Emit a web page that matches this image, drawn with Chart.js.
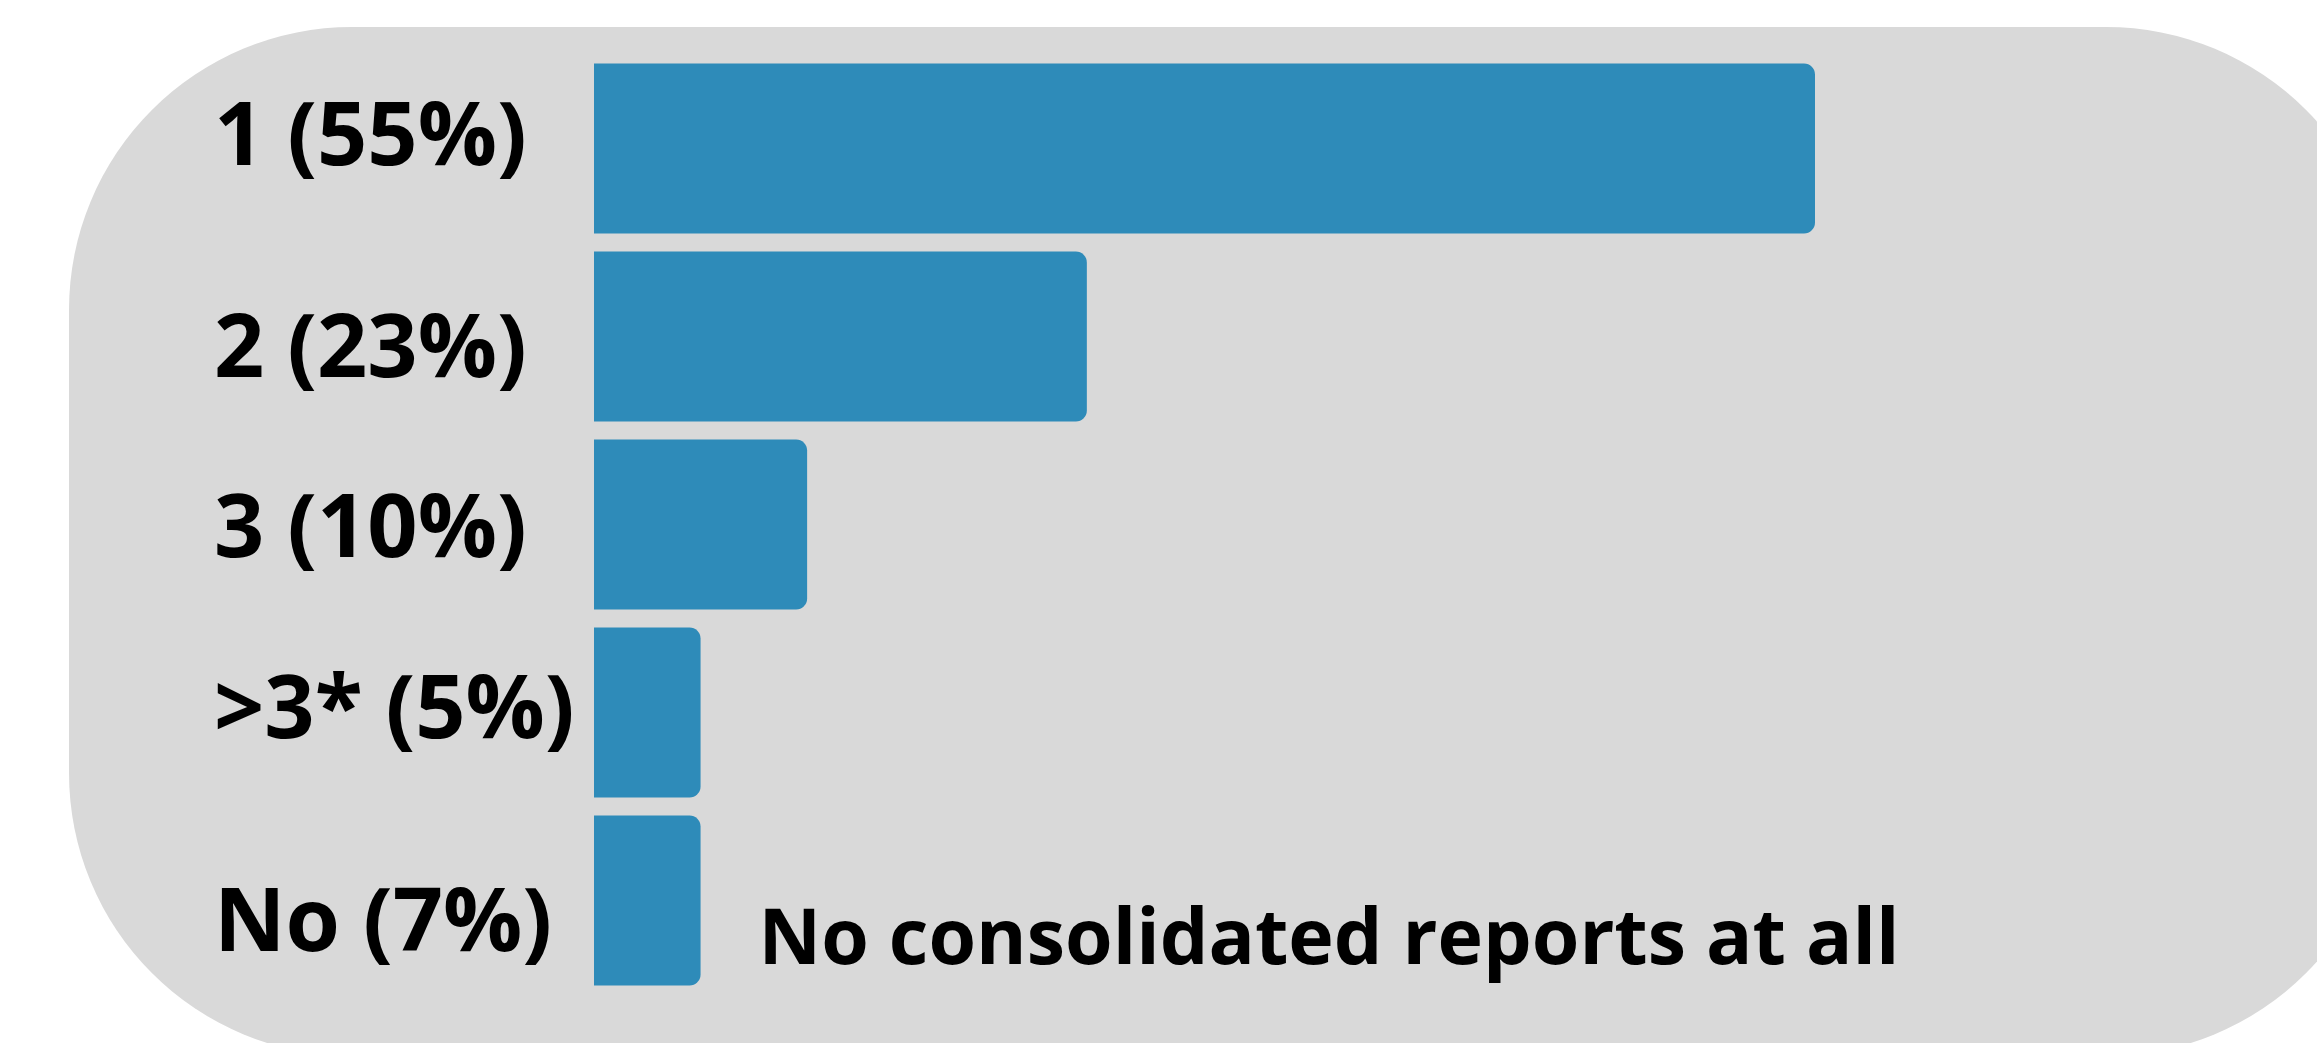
<!DOCTYPE html>
<html>
<head>
<meta charset="utf-8">
<script src="https://cdn.jsdelivr.net/npm/chart.js@4.4.1/dist/chart.umd.min.js"></script>
<style>
  html, body { margin: 0; padding: 0; background: #ffffff; }
  #wrap { width: 2317px; height: 1043px; }
</style>
</head>
<body>
<div id="wrap"><canvas id="c" width="2317" height="1043"></canvas></div>
<script>
// Data
const categories = ["1 (55%)", "2 (23%)", "3 (10%)", ">3* (5%)", "No (7%)"];
const barValues = [55, 22.2, 9.6, 4.8, 4.8];
const noteText = "No consolidated reports at all";

// Style: small vertical nudges (px) of each category label, as in the original artwork
const labelNudge = [-20, 4, -4, -11, 14];

const panelPlugin = {
  id: 'panel',
  beforeDraw(chart) {
    const ctx = chart.ctx;
    const x = 69, y = 27, w = 2389 - 69, h = 1056 - 27, r = 283;
    ctx.save();
    ctx.fillStyle = '#D9D9D9';
    ctx.beginPath();
    ctx.moveTo(x + r, y);
    ctx.lineTo(x + w - r, y);
    ctx.arc(x + w - r, y + r, r, -Math.PI / 2, 0);
    ctx.lineTo(x + w, y + h - r);
    ctx.arc(x + w - r, y + h - r, r, 0, Math.PI / 2);
    ctx.lineTo(x + r, y + h);
    ctx.arc(x + r, y + h - r, r, Math.PI / 2, Math.PI);
    ctx.lineTo(x, y + r);
    ctx.arc(x + r, y + r, r, Math.PI, Math.PI * 1.5);
    ctx.closePath();
    ctx.fill();
    ctx.restore();
  }
};

const notePlugin = {
  id: 'note',
  afterDatasetsDraw(chart) {
    const meta = chart.getDatasetMeta(0);
    const bar = meta.data[meta.data.length - 1];
    if (!bar) return;
    const ctx = chart.ctx;
    ctx.save();
    ctx.font = 'bold 77px "Open Sans"';
    ctx.fillStyle = '#000000';
    ctx.textAlign = 'left';
    ctx.textBaseline = 'alphabetic';
    ctx.fillText(noteText, bar.x + 58, bar.y + 63);
    ctx.restore();
  }
};

new Chart(document.getElementById('c'), {
  type: 'bar',
  data: {
    labels: categories,
    datasets: [{
      data: barValues,
      backgroundColor: '#2E8BB9',
      borderWidth: 0,
      borderRadius: { topLeft: 0, bottomLeft: 0, topRight: 11, bottomRight: 11 },
      borderSkipped: false,
      barPercentage: 0.904,
      categoryPercentage: 1.0
    }]
  },
  options: {
    indexAxis: 'y',
    responsive: false,
    devicePixelRatio: 1,
    animation: false,
    layout: { padding: { left: 214, right: 58, top: 54.5, bottom: 48.5 } },
    plugins: { legend: { display: false }, tooltip: { enabled: false } },
    scales: {
      x: {
        display: false,
        min: 0,
        max: 75
      },
      y: {
        afterFit(scale) { scale.width = 380; },
        grid: { display: false, drawTicks: false },
        border: { display: false },
        ticks: {
          crossAlign: 'far',
          padding: 0,
          labelOffset: 11,
          color: '#000000',
          callback: function (value, index) {
            const lab = this.getLabelForValue(value);
            const s = labelNudge[index] || 0;
            if (Math.abs(s) < 1) return lab;
            return s < 0 ? [lab, ''] : ['', lab];
          },
          font: function (ctx) {
            const s = labelNudge[ctx.index] || 0;
            return {
              family: '"Open Sans"',
              size: 88,
              weight: 'bold',
              lineHeight: Math.abs(s) < 1 ? 0.9 : (2 * Math.abs(s)) + 'px'
            };
          }
        }
      }
    }
  },
  plugins: [panelPlugin, notePlugin]
});
</script>
</body>
</html>
